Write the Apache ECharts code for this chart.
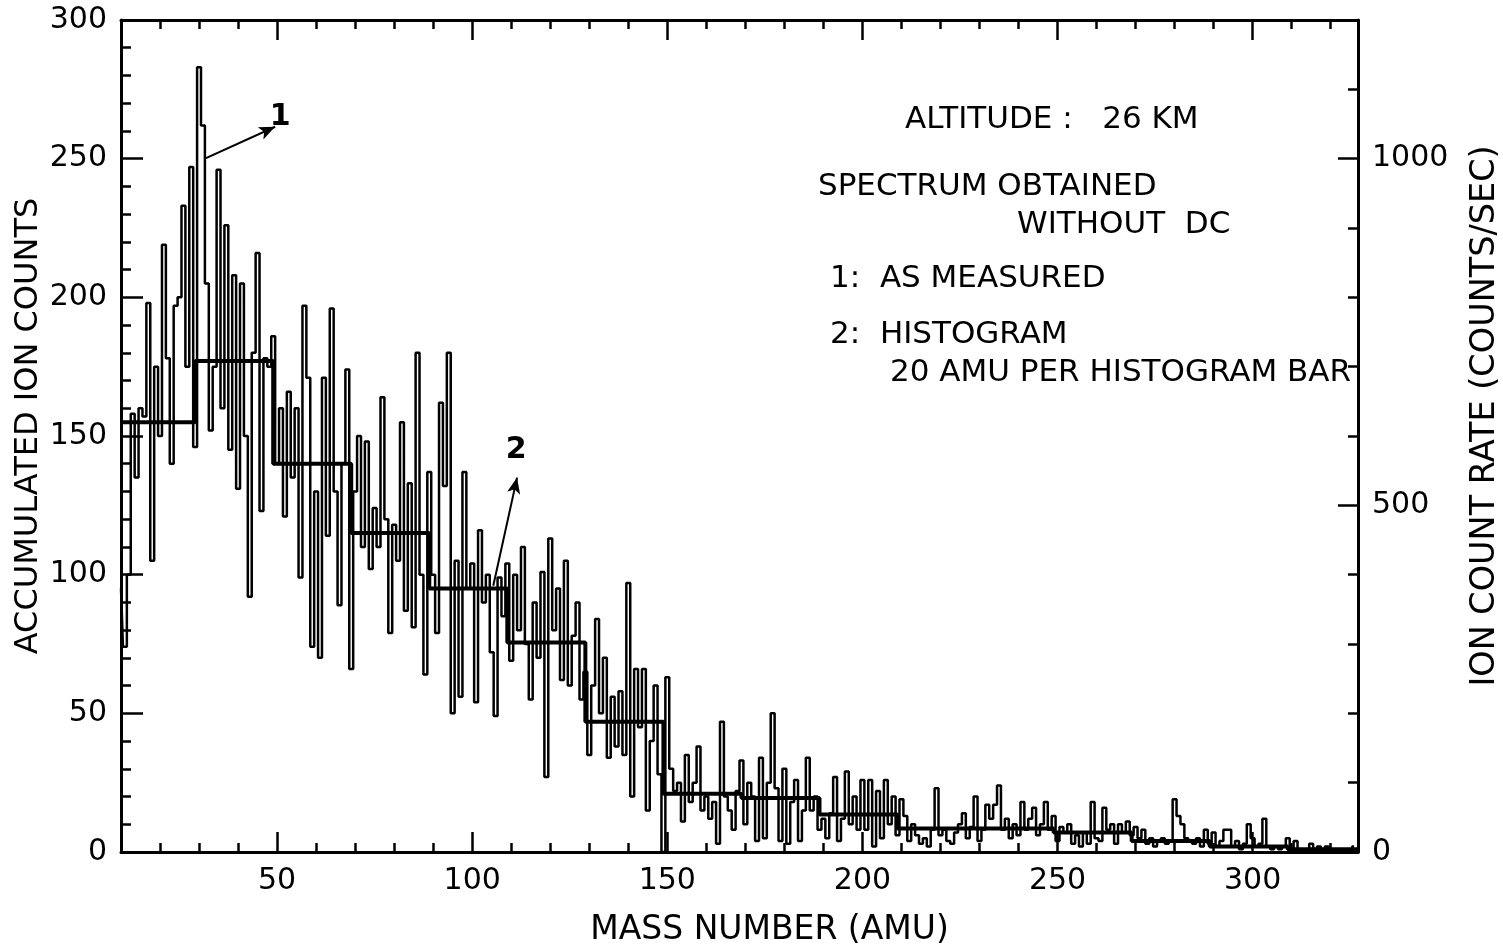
<!DOCTYPE html>
<html>
<head>
<meta charset="utf-8">
<script src="https://cdn.jsdelivr.net/npm/echarts@6/dist/echarts.min.js"></script>
<style>
  html, body { margin: 0; padding: 0; background: #fff; }
  #chart { width: 1503px; height: 947px; }
</style>
</head>
<body>
<div id="chart"></div>
<script>
// accumulated ion counts, one channel per mass number starting at 10 amu
const massStart = 10;
const counts = [
  95, 74, 100, 158, 135, 160, 157, 198, 105, 175,
  150, 219, 178, 140, 197, 200, 233, 175, 247, 146,
  283, 262, 205, 152, 175, 246, 160, 226, 145, 208,
  131, 205, 150, 92, 180, 216, 123, 178, 175, 186,
  140, 160, 121, 166, 135, 160, 99, 197, 171, 74,
  130, 70, 171, 114, 196, 130, 89, 140, 174, 66,
  130, 150, 110, 148, 102, 124, 110, 164, 120, 79,
  118, 105, 155, 87, 133, 81, 180, 100, 64, 137,
  100, 79, 162, 132, 180, 50, 105, 56, 137, 95,
  104, 54, 116, 90, 100, 72, 49, 99, 85, 104,
  69, 100, 80, 110, 75, 55, 90, 70, 101, 27,
  113, 80, 95, 62, 105, 60, 78, 90, 55, 65,
  35, 60, 84, 50, 70, 34, 56, 38, 58, 35,
  97, 20, 66, 45, 66, 15, 40, 60, 28, 0,
  63, 30, 22, 25, 11, 35, 18, 25, 38, 15,
  20, 12, 18, 3, 47, 20, 15, 8, 22, 33,
  10, 25, 20, 4, 34, 5, 25, 50, 23, 4,
  30, 3, 18, 26, 4, 15, 34, 15, 20, 8,
  12, 5, 14, 27, 4, 12, 29, 10, 20, 8,
  26, 8, 26, 2, 22, 5, 26, 10, 20, 6,
  19, 13, 4, 10, 6, 3, 5, 2, 8, 23,
  6, 8, 4, 3, 7, 10, 14, 5, 9, 20,
  4, 8, 17, 12, 17, 24, 8, 12, 5, 10,
  6, 18, 8, 12, 16, 6, 10, 18, 8, 13,
  4, 9, 7, 10, 3, 6, 2, 7, 3, 18,
  5, 4, 16, 8, 10, 3, 10, 7, 11, 6,
  9, 5, 8, 3, 5, 2, 4, 5, 3, 4,
  19, 13, 10, 5, 4, 3, 5, 2, 8, 3,
  7, 2, 4, 8, 8, 2, 4, 1, 3, 10,
  5, 2, 3, 12, 2, 1, 2, 1, 2, 5,
  1, 4, 1, 0, 1, 3, 1, 2, 0, 2,
  0, 1, 0, 0, 0, 1, 2
];

// histogram, ~20 amu per bar
const histEdges = [10, 29, 49, 69, 89, 109, 129, 149, 169, 189, 209, 229, 249, 269, 289, 309, 327];
const histValues = [155, 177, 140, 115, 95, 75.5, 47, 21, 19.5, 13.5, 8.5, 8.5, 7, 4, 2, 1];

const xMajor = [50, 100, 150, 200, 250, 300];
const xMinor = [20, 30, 40, 60, 70, 80, 90, 110, 120, 130, 140, 160, 170, 180, 190,
  210, 220, 230, 240, 260, 270, 280, 290, 310, 320];
const yLabels = [0, 50, 100, 150, 200, 250, 300];
const yMajor = [50, 100, 150, 200, 250];
const yMinor = [10, 20, 30, 40, 60, 70, 80, 90, 110, 120, 130, 140, 160, 170, 180, 190,
  210, 220, 230, 240, 260, 270, 280, 290];
const rateLabels = [0, 500, 1000];
const rateMajor = [500, 1000];
const rateMinor = [100, 200, 300, 400, 600, 700, 800, 900, 1100];

// arrows: [from, to] in (amu, counts)
const arrows = [
  [[31.5, 250], [49.5, 261.5]],
  [[105.4, 96], [111.5, 135]]
];
const arrowLabels = [
  { name: '1', value: [50.8, 265] },
  { name: '2', value: [111.3, 145] }
];

const noteLines = [
  { text: 'ALTITUDE :   26 KM', x: 905, y: 120 },
  { text: 'SPECTRUM OBTAINED', x: 818, y: 187 },
  { text: 'WITHOUT  DC', x: 1017, y: 225 },
  { text: '1:  AS MEASURED', x: 830, y: 279 },
  { text: '2:  HISTOGRAM', x: 830, y: 335 },
  { text: '20 AMU PER HISTOGRAM BAR', x: 890, y: 373 }
];

const FONT = 'DejaVu Sans';
const black = '#000';

function xAx(pos, ticks, len, line, labels) {
  return {
    type: 'value', position: pos, min: 10, max: 327,
    splitLine: { show: false },
    axisLine: { show: line, onZero: false, lineStyle: { color: black, width: 3 } },
    axisTick: { inside: true, length: len, customValues: ticks, lineStyle: { color: black, width: 2.5 } },
    axisLabel: labels ? { customValues: labels, color: black, fontSize: 30, fontFamily: FONT, margin: 14 } : { show: false }
  };
}
function yAx(pos, max, ticks, len, line, labels) {
  return {
    type: 'value', position: pos, min: 0, max: max,
    splitLine: { show: false },
    axisLine: { show: line, onZero: false, lineStyle: { color: black, width: 3 } },
    axisTick: { inside: true, length: len, customValues: ticks, lineStyle: { color: black, width: 2.5 } },
    axisLabel: labels ? {
      customValues: labels, color: black, fontSize: 30, fontFamily: FONT, margin: 14,
      formatter: v => String(v)
    } : { show: false }
  };
}

const xBottom = xAx('bottom', xMajor, 20, true, xMajor);
xBottom.name = 'MASS NUMBER (AMU)';
xBottom.nameLocation = 'middle';
xBottom.nameGap = 62;
xBottom.nameTextStyle = { color: black, fontSize: 33, fontFamily: FONT, padding: [0, 0, 0, 60] };

const yLeft = yAx('left', 300, yMajor, 22, true, yLabels);
yLeft.name = 'ACCUMULATED ION COUNTS';
yLeft.nameLocation = 'middle';
yLeft.nameGap = 76;
yLeft.nameMoveOverlap = false;
yLeft.nameTextStyle = { color: black, fontSize: 32, fontFamily: FONT, padding: [0, 0, 0, 20] };

const yRight = yAx('right', 1200, rateMajor, 20, true, rateLabels);
yRight.name = 'ION COUNT RATE (COUNTS/SEC)';
yRight.nameLocation = 'middle';
yRight.nameGap = 110;
yRight.nameTextStyle = { color: black, fontSize: 33.5, fontFamily: FONT, padding: [0, 0, 0, 40] };

const chart = echarts.init(document.getElementById('chart'));
chart.setOption({
  animation: false,
  backgroundColor: '#fff',
  grid: { left: 121, right: 145, top: 20, bottom: 95, outerBoundsMode: 'none', containLabel: false },
  xAxis: [
    xBottom,
    xAx('bottom', xMinor, 9, false, null),
    xAx('top', xMajor, 20, true, null),
    xAx('top', xMinor, 9, false, null)
  ],
  yAxis: [
    yLeft,
    yAx('left', 300, yMinor, 10, false, null),
    yRight,
    yAx('right', 1200, rateMinor, 10, false, null)
  ],
  graphic: noteLines.map(n => ({
    type: 'text', x: n.x, y: n.y,
    style: { text: n.text, font: '31px "DejaVu Sans"', fill: black, verticalAlign: 'middle' }
  })),
  series: [
    {
      name: 'as measured', type: 'line', step: 'middle', symbol: 'none',
      data: counts.map((v, i) => [massStart + i, v]),
      lineStyle: { color: black, width: 2.5 }
    },
    {
      name: 'histogram', type: 'line', step: 'end', symbol: 'none',
      data: histEdges.map((e, i) => [e, histValues[Math.min(i, histValues.length - 1)]]),
      lineStyle: { color: black, width: 4 },
      markLine: {
        silent: true,
        symbol: ['none', 'arrow'],
        symbolSize: [10, 16],
        label: { show: false },
        lineStyle: { color: black, width: 2, type: 'solid' },
        data: arrows.map(a => [{ coord: a[0] }, { coord: a[1] }])
      }
    },
    {
      name: 'labels', type: 'scatter', symbolSize: 0,
      data: arrowLabels,
      itemStyle: { opacity: 1 },
      label: {
        show: true, position: 'inside', formatter: p => p.name,
        color: black, fontSize: 30, fontWeight: 'bold', fontFamily: FONT
      }
    }
  ]
});
</script>
</body>
</html>
